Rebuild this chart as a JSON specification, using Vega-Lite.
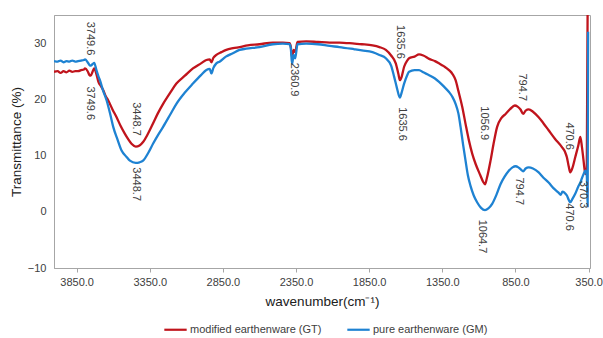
{
  "$schema": "https://vega.github.io/schema/vega-lite/v6.json",
  "width": 536,
  "height": 253,
  "autosize": {"type": "none"},
  "padding": {"left": 54, "top": 15, "right": 13, "bottom": 70},
  "config": {
    "font": "Liberation Sans",
    "view": {"stroke": "#a6a6a6", "strokeWidth": 1}
  },
  "datasets": {
    "spectra": [
      {"wn": 4005, "t": 24.9, "s": "modified earthenware (GT)"},
      {"wn": 3980, "t": 25.0, "s": "modified earthenware (GT)"},
      {"wn": 3960, "t": 24.7, "s": "modified earthenware (GT)"},
      {"wn": 3940, "t": 25.0, "s": "modified earthenware (GT)"},
      {"wn": 3920, "t": 24.8, "s": "modified earthenware (GT)"},
      {"wn": 3900, "t": 25.1, "s": "modified earthenware (GT)"},
      {"wn": 3880, "t": 24.9, "s": "modified earthenware (GT)"},
      {"wn": 3860, "t": 25.0, "s": "modified earthenware (GT)"},
      {"wn": 3840, "t": 25.0, "s": "modified earthenware (GT)"},
      {"wn": 3820, "t": 25.2, "s": "modified earthenware (GT)"},
      {"wn": 3800, "t": 25.3, "s": "modified earthenware (GT)"},
      {"wn": 3793, "t": 25.5, "s": "modified earthenware (GT)"},
      {"wn": 3775, "t": 25.0, "s": "modified earthenware (GT)"},
      {"wn": 3762, "t": 24.3, "s": "modified earthenware (GT)"},
      {"wn": 3754, "t": 24.2, "s": "modified earthenware (GT)"},
      {"wn": 3740, "t": 25.0, "s": "modified earthenware (GT)"},
      {"wn": 3730, "t": 25.5, "s": "modified earthenware (GT)"},
      {"wn": 3715, "t": 24.5, "s": "modified earthenware (GT)"},
      {"wn": 3700, "t": 23.0, "s": "modified earthenware (GT)"},
      {"wn": 3685, "t": 22.4, "s": "modified earthenware (GT)"},
      {"wn": 3668, "t": 21.6, "s": "modified earthenware (GT)"},
      {"wn": 3650, "t": 20.5, "s": "modified earthenware (GT)"},
      {"wn": 3634, "t": 19.8, "s": "modified earthenware (GT)"},
      {"wn": 3605, "t": 18.2, "s": "modified earthenware (GT)"},
      {"wn": 3577, "t": 16.8, "s": "modified earthenware (GT)"},
      {"wn": 3550, "t": 15.3, "s": "modified earthenware (GT)"},
      {"wn": 3521, "t": 13.9, "s": "modified earthenware (GT)"},
      {"wn": 3500, "t": 13.0, "s": "modified earthenware (GT)"},
      {"wn": 3475, "t": 12.1, "s": "modified earthenware (GT)"},
      {"wn": 3446, "t": 11.6, "s": "modified earthenware (GT)"},
      {"wn": 3420, "t": 11.8, "s": "modified earthenware (GT)"},
      {"wn": 3396, "t": 12.4, "s": "modified earthenware (GT)"},
      {"wn": 3360, "t": 14.0, "s": "modified earthenware (GT)"},
      {"wn": 3328, "t": 15.7, "s": "modified earthenware (GT)"},
      {"wn": 3295, "t": 17.5, "s": "modified earthenware (GT)"},
      {"wn": 3259, "t": 19.2, "s": "modified earthenware (GT)"},
      {"wn": 3210, "t": 21.2, "s": "modified earthenware (GT)"},
      {"wn": 3168, "t": 22.8, "s": "modified earthenware (GT)"},
      {"wn": 3110, "t": 24.2, "s": "modified earthenware (GT)"},
      {"wn": 3055, "t": 25.5, "s": "modified earthenware (GT)"},
      {"wn": 3000, "t": 26.4, "s": "modified earthenware (GT)"},
      {"wn": 2963, "t": 27.0, "s": "modified earthenware (GT)"},
      {"wn": 2940, "t": 27.1, "s": "modified earthenware (GT)"},
      {"wn": 2929, "t": 26.6, "s": "modified earthenware (GT)"},
      {"wn": 2915, "t": 27.4, "s": "modified earthenware (GT)"},
      {"wn": 2895, "t": 27.9, "s": "modified earthenware (GT)"},
      {"wn": 2860, "t": 28.4, "s": "modified earthenware (GT)"},
      {"wn": 2827, "t": 28.8, "s": "modified earthenware (GT)"},
      {"wn": 2780, "t": 29.1, "s": "modified earthenware (GT)"},
      {"wn": 2736, "t": 29.3, "s": "modified earthenware (GT)"},
      {"wn": 2680, "t": 29.6, "s": "modified earthenware (GT)"},
      {"wn": 2600, "t": 29.8, "s": "modified earthenware (GT)"},
      {"wn": 2509, "t": 30.1, "s": "modified earthenware (GT)"},
      {"wn": 2440, "t": 30.1, "s": "modified earthenware (GT)"},
      {"wn": 2395, "t": 30.0, "s": "modified earthenware (GT)"},
      {"wn": 2386, "t": 29.4, "s": "modified earthenware (GT)"},
      {"wn": 2377, "t": 27.5, "s": "modified earthenware (GT)"},
      {"wn": 2366, "t": 28.8, "s": "modified earthenware (GT)"},
      {"wn": 2356, "t": 28.4, "s": "modified earthenware (GT)"},
      {"wn": 2340, "t": 30.2, "s": "modified earthenware (GT)"},
      {"wn": 2281, "t": 30.3, "s": "modified earthenware (GT)"},
      {"wn": 2200, "t": 30.2, "s": "modified earthenware (GT)"},
      {"wn": 2120, "t": 30.1, "s": "modified earthenware (GT)"},
      {"wn": 2054, "t": 30.1, "s": "modified earthenware (GT)"},
      {"wn": 1950, "t": 29.9, "s": "modified earthenware (GT)"},
      {"wn": 1900, "t": 29.8, "s": "modified earthenware (GT)"},
      {"wn": 1827, "t": 29.6, "s": "modified earthenware (GT)"},
      {"wn": 1780, "t": 29.3, "s": "modified earthenware (GT)"},
      {"wn": 1736, "t": 28.8, "s": "modified earthenware (GT)"},
      {"wn": 1700, "t": 27.8, "s": "modified earthenware (GT)"},
      {"wn": 1668, "t": 26.4, "s": "modified earthenware (GT)"},
      {"wn": 1650, "t": 24.5, "s": "modified earthenware (GT)"},
      {"wn": 1640, "t": 23.4, "s": "modified earthenware (GT)"},
      {"wn": 1628, "t": 24.0, "s": "modified earthenware (GT)"},
      {"wn": 1611, "t": 25.8, "s": "modified earthenware (GT)"},
      {"wn": 1590, "t": 26.9, "s": "modified earthenware (GT)"},
      {"wn": 1577, "t": 27.3, "s": "modified earthenware (GT)"},
      {"wn": 1540, "t": 27.6, "s": "modified earthenware (GT)"},
      {"wn": 1509, "t": 28.0, "s": "modified earthenware (GT)"},
      {"wn": 1480, "t": 27.8, "s": "modified earthenware (GT)"},
      {"wn": 1440, "t": 27.2, "s": "modified earthenware (GT)"},
      {"wn": 1400, "t": 26.8, "s": "modified earthenware (GT)"},
      {"wn": 1372, "t": 26.4, "s": "modified earthenware (GT)"},
      {"wn": 1340, "t": 25.9, "s": "modified earthenware (GT)"},
      {"wn": 1304, "t": 25.2, "s": "modified earthenware (GT)"},
      {"wn": 1280, "t": 24.5, "s": "modified earthenware (GT)"},
      {"wn": 1259, "t": 23.4, "s": "modified earthenware (GT)"},
      {"wn": 1240, "t": 21.5, "s": "modified earthenware (GT)"},
      {"wn": 1213, "t": 18.6, "s": "modified earthenware (GT)"},
      {"wn": 1190, "t": 15.5, "s": "modified earthenware (GT)"},
      {"wn": 1168, "t": 12.7, "s": "modified earthenware (GT)"},
      {"wn": 1145, "t": 10.3, "s": "modified earthenware (GT)"},
      {"wn": 1122, "t": 8.5, "s": "modified earthenware (GT)"},
      {"wn": 1090, "t": 6.5, "s": "modified earthenware (GT)"},
      {"wn": 1070, "t": 5.3, "s": "modified earthenware (GT)"},
      {"wn": 1058, "t": 4.9, "s": "modified earthenware (GT)"},
      {"wn": 1045, "t": 6.0, "s": "modified earthenware (GT)"},
      {"wn": 1020, "t": 9.1, "s": "modified earthenware (GT)"},
      {"wn": 1000, "t": 12.0, "s": "modified earthenware (GT)"},
      {"wn": 975, "t": 15.1, "s": "modified earthenware (GT)"},
      {"wn": 945, "t": 16.7, "s": "modified earthenware (GT)"},
      {"wn": 917, "t": 17.4, "s": "modified earthenware (GT)"},
      {"wn": 885, "t": 18.3, "s": "modified earthenware (GT)"},
      {"wn": 854, "t": 18.9, "s": "modified earthenware (GT)"},
      {"wn": 835, "t": 18.7, "s": "modified earthenware (GT)"},
      {"wn": 815, "t": 18.2, "s": "modified earthenware (GT)"},
      {"wn": 797, "t": 17.4, "s": "modified earthenware (GT)"},
      {"wn": 780, "t": 18.0, "s": "modified earthenware (GT)"},
      {"wn": 759, "t": 18.2, "s": "modified earthenware (GT)"},
      {"wn": 730, "t": 17.8, "s": "modified earthenware (GT)"},
      {"wn": 691, "t": 16.8, "s": "modified earthenware (GT)"},
      {"wn": 660, "t": 15.8, "s": "modified earthenware (GT)"},
      {"wn": 623, "t": 14.5, "s": "modified earthenware (GT)"},
      {"wn": 580, "t": 13.0, "s": "modified earthenware (GT)"},
      {"wn": 532, "t": 11.5, "s": "modified earthenware (GT)"},
      {"wn": 510, "t": 10.6, "s": "modified earthenware (GT)"},
      {"wn": 498, "t": 9.7, "s": "modified earthenware (GT)"},
      {"wn": 485, "t": 8.0, "s": "modified earthenware (GT)"},
      {"wn": 475, "t": 7.0, "s": "modified earthenware (GT)"},
      {"wn": 460, "t": 7.8, "s": "modified earthenware (GT)"},
      {"wn": 441, "t": 9.7, "s": "modified earthenware (GT)"},
      {"wn": 420, "t": 11.8, "s": "modified earthenware (GT)"},
      {"wn": 406, "t": 13.3, "s": "modified earthenware (GT)"},
      {"wn": 395, "t": 11.5, "s": "modified earthenware (GT)"},
      {"wn": 384, "t": 9.1, "s": "modified earthenware (GT)"},
      {"wn": 372, "t": 6.7, "s": "modified earthenware (GT)"},
      {"wn": 362, "t": 7.9, "s": "modified earthenware (GT)"},
      {"wn": 355, "t": 42, "s": "modified earthenware (GT)"},
      {"wn": 4005, "t": 26.8, "s": "pure earthenware (GM)"},
      {"wn": 3980, "t": 26.7, "s": "pure earthenware (GM)"},
      {"wn": 3960, "t": 26.9, "s": "pure earthenware (GM)"},
      {"wn": 3940, "t": 26.6, "s": "pure earthenware (GM)"},
      {"wn": 3920, "t": 26.8, "s": "pure earthenware (GM)"},
      {"wn": 3900, "t": 26.7, "s": "pure earthenware (GM)"},
      {"wn": 3880, "t": 26.9, "s": "pure earthenware (GM)"},
      {"wn": 3860, "t": 26.7, "s": "pure earthenware (GM)"},
      {"wn": 3840, "t": 26.8, "s": "pure earthenware (GM)"},
      {"wn": 3820, "t": 26.9, "s": "pure earthenware (GM)"},
      {"wn": 3800, "t": 27.0, "s": "pure earthenware (GM)"},
      {"wn": 3793, "t": 27.1, "s": "pure earthenware (GM)"},
      {"wn": 3775, "t": 26.6, "s": "pure earthenware (GM)"},
      {"wn": 3762, "t": 26.1, "s": "pure earthenware (GM)"},
      {"wn": 3754, "t": 26.0, "s": "pure earthenware (GM)"},
      {"wn": 3740, "t": 26.3, "s": "pure earthenware (GM)"},
      {"wn": 3730, "t": 26.5, "s": "pure earthenware (GM)"},
      {"wn": 3715, "t": 25.2, "s": "pure earthenware (GM)"},
      {"wn": 3700, "t": 24.0, "s": "pure earthenware (GM)"},
      {"wn": 3691, "t": 23.4, "s": "pure earthenware (GM)"},
      {"wn": 3670, "t": 21.6, "s": "pure earthenware (GM)"},
      {"wn": 3645, "t": 19.8, "s": "pure earthenware (GM)"},
      {"wn": 3620, "t": 17.3, "s": "pure earthenware (GM)"},
      {"wn": 3600, "t": 15.1, "s": "pure earthenware (GM)"},
      {"wn": 3570, "t": 12.8, "s": "pure earthenware (GM)"},
      {"wn": 3543, "t": 10.9, "s": "pure earthenware (GM)"},
      {"wn": 3510, "t": 9.8, "s": "pure earthenware (GM)"},
      {"wn": 3486, "t": 9.1, "s": "pure earthenware (GM)"},
      {"wn": 3446, "t": 8.7, "s": "pure earthenware (GM)"},
      {"wn": 3420, "t": 8.8, "s": "pure earthenware (GM)"},
      {"wn": 3396, "t": 9.1, "s": "pure earthenware (GM)"},
      {"wn": 3360, "t": 10.5, "s": "pure earthenware (GM)"},
      {"wn": 3328, "t": 12.1, "s": "pure earthenware (GM)"},
      {"wn": 3295, "t": 13.6, "s": "pure earthenware (GM)"},
      {"wn": 3259, "t": 15.1, "s": "pure earthenware (GM)"},
      {"wn": 3210, "t": 17.3, "s": "pure earthenware (GM)"},
      {"wn": 3168, "t": 19.2, "s": "pure earthenware (GM)"},
      {"wn": 3110, "t": 21.2, "s": "pure earthenware (GM)"},
      {"wn": 3055, "t": 22.8, "s": "pure earthenware (GM)"},
      {"wn": 3000, "t": 24.3, "s": "pure earthenware (GM)"},
      {"wn": 2963, "t": 25.2, "s": "pure earthenware (GM)"},
      {"wn": 2940, "t": 25.4, "s": "pure earthenware (GM)"},
      {"wn": 2929, "t": 24.6, "s": "pure earthenware (GM)"},
      {"wn": 2915, "t": 25.6, "s": "pure earthenware (GM)"},
      {"wn": 2895, "t": 26.4, "s": "pure earthenware (GM)"},
      {"wn": 2873, "t": 26.7, "s": "pure earthenware (GM)"},
      {"wn": 2830, "t": 27.6, "s": "pure earthenware (GM)"},
      {"wn": 2782, "t": 28.2, "s": "pure earthenware (GM)"},
      {"wn": 2736, "t": 28.8, "s": "pure earthenware (GM)"},
      {"wn": 2691, "t": 29.0, "s": "pure earthenware (GM)"},
      {"wn": 2600, "t": 29.3, "s": "pure earthenware (GM)"},
      {"wn": 2509, "t": 29.8, "s": "pure earthenware (GM)"},
      {"wn": 2440, "t": 29.9, "s": "pure earthenware (GM)"},
      {"wn": 2395, "t": 29.8, "s": "pure earthenware (GM)"},
      {"wn": 2386, "t": 29.1, "s": "pure earthenware (GM)"},
      {"wn": 2377, "t": 26.3, "s": "pure earthenware (GM)"},
      {"wn": 2366, "t": 27.9, "s": "pure earthenware (GM)"},
      {"wn": 2356, "t": 27.3, "s": "pure earthenware (GM)"},
      {"wn": 2340, "t": 29.8, "s": "pure earthenware (GM)"},
      {"wn": 2281, "t": 29.9, "s": "pure earthenware (GM)"},
      {"wn": 2200, "t": 29.8, "s": "pure earthenware (GM)"},
      {"wn": 2120, "t": 29.5, "s": "pure earthenware (GM)"},
      {"wn": 2054, "t": 29.3, "s": "pure earthenware (GM)"},
      {"wn": 1950, "t": 28.9, "s": "pure earthenware (GM)"},
      {"wn": 1900, "t": 28.7, "s": "pure earthenware (GM)"},
      {"wn": 1827, "t": 28.4, "s": "pure earthenware (GM)"},
      {"wn": 1780, "t": 27.9, "s": "pure earthenware (GM)"},
      {"wn": 1736, "t": 27.3, "s": "pure earthenware (GM)"},
      {"wn": 1700, "t": 26.0, "s": "pure earthenware (GM)"},
      {"wn": 1679, "t": 24.0, "s": "pure earthenware (GM)"},
      {"wn": 1660, "t": 22.0, "s": "pure earthenware (GM)"},
      {"wn": 1640, "t": 20.3, "s": "pure earthenware (GM)"},
      {"wn": 1628, "t": 21.2, "s": "pure earthenware (GM)"},
      {"wn": 1611, "t": 22.8, "s": "pure earthenware (GM)"},
      {"wn": 1590, "t": 24.3, "s": "pure earthenware (GM)"},
      {"wn": 1577, "t": 24.9, "s": "pure earthenware (GM)"},
      {"wn": 1540, "t": 25.2, "s": "pure earthenware (GM)"},
      {"wn": 1509, "t": 25.2, "s": "pure earthenware (GM)"},
      {"wn": 1480, "t": 24.8, "s": "pure earthenware (GM)"},
      {"wn": 1440, "t": 24.3, "s": "pure earthenware (GM)"},
      {"wn": 1400, "t": 23.7, "s": "pure earthenware (GM)"},
      {"wn": 1372, "t": 23.1, "s": "pure earthenware (GM)"},
      {"wn": 1340, "t": 22.3, "s": "pure earthenware (GM)"},
      {"wn": 1304, "t": 21.3, "s": "pure earthenware (GM)"},
      {"wn": 1280, "t": 20.4, "s": "pure earthenware (GM)"},
      {"wn": 1259, "t": 19.2, "s": "pure earthenware (GM)"},
      {"wn": 1240, "t": 17.5, "s": "pure earthenware (GM)"},
      {"wn": 1225, "t": 15.1, "s": "pure earthenware (GM)"},
      {"wn": 1208, "t": 12.0, "s": "pure earthenware (GM)"},
      {"wn": 1191, "t": 9.1, "s": "pure earthenware (GM)"},
      {"wn": 1175, "t": 6.5, "s": "pure earthenware (GM)"},
      {"wn": 1157, "t": 4.6, "s": "pure earthenware (GM)"},
      {"wn": 1135, "t": 2.9, "s": "pure earthenware (GM)"},
      {"wn": 1112, "t": 1.7, "s": "pure earthenware (GM)"},
      {"wn": 1085, "t": 0.7, "s": "pure earthenware (GM)"},
      {"wn": 1058, "t": 0.3, "s": "pure earthenware (GM)"},
      {"wn": 1035, "t": 0.6, "s": "pure earthenware (GM)"},
      {"wn": 1009, "t": 1.4, "s": "pure earthenware (GM)"},
      {"wn": 980, "t": 3.0, "s": "pure earthenware (GM)"},
      {"wn": 952, "t": 4.9, "s": "pure earthenware (GM)"},
      {"wn": 925, "t": 6.2, "s": "pure earthenware (GM)"},
      {"wn": 895, "t": 7.3, "s": "pure earthenware (GM)"},
      {"wn": 870, "t": 7.9, "s": "pure earthenware (GM)"},
      {"wn": 849, "t": 8.1, "s": "pure earthenware (GM)"},
      {"wn": 830, "t": 7.9, "s": "pure earthenware (GM)"},
      {"wn": 812, "t": 7.5, "s": "pure earthenware (GM)"},
      {"wn": 797, "t": 7.2, "s": "pure earthenware (GM)"},
      {"wn": 780, "t": 7.7, "s": "pure earthenware (GM)"},
      {"wn": 759, "t": 7.9, "s": "pure earthenware (GM)"},
      {"wn": 730, "t": 7.7, "s": "pure earthenware (GM)"},
      {"wn": 691, "t": 7.0, "s": "pure earthenware (GM)"},
      {"wn": 660, "t": 6.1, "s": "pure earthenware (GM)"},
      {"wn": 623, "t": 5.2, "s": "pure earthenware (GM)"},
      {"wn": 590, "t": 4.2, "s": "pure earthenware (GM)"},
      {"wn": 555, "t": 3.4, "s": "pure earthenware (GM)"},
      {"wn": 540, "t": 3.0, "s": "pure earthenware (GM)"},
      {"wn": 528, "t": 3.6, "s": "pure earthenware (GM)"},
      {"wn": 515, "t": 3.4, "s": "pure earthenware (GM)"},
      {"wn": 498, "t": 2.9, "s": "pure earthenware (GM)"},
      {"wn": 485, "t": 2.1, "s": "pure earthenware (GM)"},
      {"wn": 475, "t": 1.7, "s": "pure earthenware (GM)"},
      {"wn": 460, "t": 2.3, "s": "pure earthenware (GM)"},
      {"wn": 441, "t": 3.2, "s": "pure earthenware (GM)"},
      {"wn": 420, "t": 4.5, "s": "pure earthenware (GM)"},
      {"wn": 406, "t": 5.2, "s": "pure earthenware (GM)"},
      {"wn": 395, "t": 6.0, "s": "pure earthenware (GM)"},
      {"wn": 384, "t": 6.7, "s": "pure earthenware (GM)"},
      {"wn": 372, "t": 7.3, "s": "pure earthenware (GM)"},
      {"wn": 362, "t": 6.5, "s": "pure earthenware (GM)"},
      {"wn": 356, "t": 1.0, "s": "pure earthenware (GM)"},
      {"wn": 353, "t": 32, "s": "pure earthenware (GM)"}
    ],
    "peaks": [
      {"lx": 3759, "ly": 33.8, "label": "3749.6"},
      {"lx": 3759, "ly": 22.3, "label": "3749.6"},
      {"lx": 3446, "ly": 19.5, "label": "3448.7"},
      {"lx": 3446, "ly": 7.9, "label": "3448.7"},
      {"lx": 2366, "ly": 26.5, "label": "2360.9"},
      {"lx": 1638, "ly": 33.2, "label": "1635.6"},
      {"lx": 1627, "ly": 18.6, "label": "1635.6"},
      {"lx": 1065, "ly": 18.75, "label": "1056.9"},
      {"lx": 1081, "ly": -1.4, "label": "1064.7"},
      {"lx": 804, "ly": 24.6, "label": "794.7"},
      {"lx": 826, "ly": 6.1, "label": "794.7"},
      {"lx": 486, "ly": 15.9, "label": "470.6"},
      {"lx": 486, "ly": 1.5, "label": "470.6"},
      {"lx": 388, "ly": 5.5, "label": "370.3"}
    ]
  },
  "layer": [
    {
      "data": {"name": "spectra"},
      "mark": {"type": "line", "strokeWidth": 2.3, "clip": true, "interpolate": "monotone"},
      "encoding": {
        "x": {
          "field": "wn", "type": "quantitative",
          "scale": {"domain": [340, 4005], "reverse": true, "nice": false, "zero": false},
          "axis": {
            "title": "wavenumber(cm⁻¹)",
            "values": [3850, 3350, 2850, 2350, 1850, 1350, 850, 350],
            "format": ".1f",
            "grid": false,
            "domainColor": "#a6a6a6",
            "tickColor": "#a6a6a6",
            "tickSize": 4,
            "labelFontSize": 11,
            "labelColor": "#404040",
            "labelPadding": 4,
            "titleFontSize": 13.5,
            "titleFontWeight": "normal",
            "titleColor": "#202020",
            "titlePadding": 7
          }
        },
        "y": {
          "field": "t", "type": "quantitative",
          "scale": {"domain": [-10, 35], "nice": false, "zero": false},
          "axis": {
            "title": "Transmittance (%)",
            "values": [-10, 0, 10, 20, 30],
            "grid": false,
            "ticks": false,
            "domainColor": "#a6a6a6",
            "labelFontSize": 11,
            "labelColor": "#404040",
            "labelPadding": 8,
            "titleFontSize": 13.5,
            "titleFontWeight": "normal",
            "titleColor": "#202020",
            "titlePadding": 4
          }
        },
        "color": {
          "field": "s", "type": "nominal",
          "scale": {
            "domain": ["modified earthenware (GT)", "pure earthenware (GM)"],
            "range": ["#C0141C", "#1E82D2"]
          },
          "legend": {
            "title": null,
            "orient": "none",
            "legendX": 109,
            "legendY": 302,
            "direction": "horizontal",
            "symbolType": "stroke",
            "symbolSize": 500,
            "symbolStrokeWidth": 2.2,
            "labelFontSize": 11,
            "labelColor": "#404040",
            "labelOffset": 2,
            "columnPadding": 20
          }
        }
      }
    },
    {
      "data": {"name": "peaks"},
      "mark": {"type": "text", "angle": 90, "align": "left", "baseline": "middle", "fontSize": 11, "color": "#404040"},
      "encoding": {
        "x": {"field": "lx", "type": "quantitative"},
        "y": {"field": "ly", "type": "quantitative"},
        "text": {"field": "label"}
      }
    }
  ]
}
